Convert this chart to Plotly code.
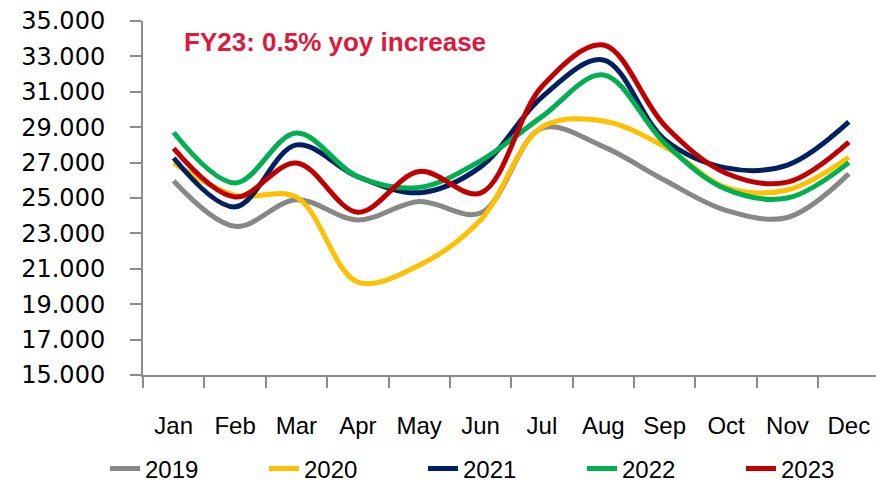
import plotly.graph_objects as go

months = ["Jan", "Feb", "Mar", "Apr", "May", "Jun", "Jul", "Aug", "Sep", "Oct", "Nov", "Dec"]
y2019 = [25960, 23400, 24900, 23760, 24800, 24150, 28950, 27900, 26000, 24300, 23900, 26360]
y2020 = [26980, 25150, 25050, 20250, 21200, 23760, 29000, 29350, 27900, 25600, 25450, 27300]
y2021 = [27260, 24500, 28000, 26200, 25300, 26760, 30700, 32800, 28300, 26700, 26860, 29300]
y2022 = [28700, 25850, 28670, 26200, 25600, 27100, 29600, 31950, 28100, 25500, 25000, 27000]
y2023 = [27800, 25060, 26980, 24200, 26500, 25280, 31300, 33640, 29100, 26400, 25900, 28160]

series = [
    ("2019", y2019, "#878787"),
    ("2020", y2020, "#FFC000"),
    ("2021", y2021, "#002060"),
    ("2022", y2022, "#00B050"),
    ("2023", y2023, "#C00000"),
]
y_ticks = list(range(15000, 35001, 2000))

fig = go.Figure()
for name, vals, col in series:
    fig.add_trace(go.Scatter(
        x=months, y=vals, name=name, mode="lines",
        line=dict(color=col, width=5, shape="spline", smoothing=1.0),
    ))

fig.update_layout(
    width=876, height=482,
    margin=dict(l=143, r=0, t=21, b=107, autoexpand=False),
    paper_bgcolor="white", plot_bgcolor="white",
    separators=",.",
    showlegend=True,
    legend=dict(
        orientation="h", x=(105 - 143) / 733, xanchor="left", xref="paper",
        y=(375 - 469) / 354, yanchor="middle", yref="paper",
        bgcolor="rgba(0,0,0,0)",
        font=dict(family="Liberation Sans", size=24, color="#000"),
        entrywidth=114, itemwidth=30,
    ),
    annotations=[dict(
        text="<b>FY23: 0.5% yoy increase</b>", xref="paper", yref="paper",
        x=(182 - 143) / 733, y=(375 - 42) / 354, xanchor="left", yanchor="middle",
        showarrow=False, font=dict(family="Liberation Sans", size=26, color="#E0193C"),
    )],
)

fig.update_xaxes(
    range=[-0.5, 11.443], showline=True, linecolor="#8c8c8c", linewidth=2,
    ticks="outside", ticklen=11, tickcolor="#8c8c8c", tickwidth=2,
    tickson="boundaries", showgrid=False, zeroline=False, automargin=False,
    tickfont=dict(family="Liberation Sans", size=24, color="#000"),
    ticklabelstandoff=28,
)
fig.update_yaxes(
    range=[15000, 35000], tickvals=y_ticks, tickformat=",d",
    showline=True, linecolor="#8c8c8c", linewidth=2,
    ticks="outside", ticklen=11, tickcolor="#8c8c8c", tickwidth=2,
    showgrid=False, zeroline=False, automargin=False,
    tickfont=dict(family="DejaVu Sans", size=24, color="#000"),
    ticklabelstandoff=20,
)

fig.write_html(
    "out.html",
    config={"displayModeBar": False},
    post_script="document.body.style.margin='0';document.body.style.padding='0';",
)
